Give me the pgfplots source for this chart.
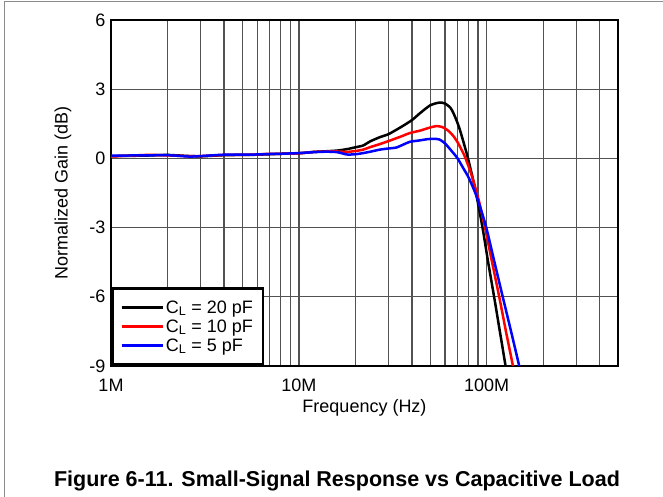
\documentclass[border=0pt]{standalone}
\usepackage{fontspec}
\setmainfont{Liberation Sans}
\usepackage{pgfplots}
\pgfplotsset{compat=1.18}
\begin{document}
\begin{tikzpicture}
\path[use as bounding box] (0pt,0pt) rectangle (663pt,497pt);
\draw[black!45, line width=1pt] (4.5pt,0pt) -- (4.5pt,495.5pt) -- (663pt,495.5pt);
\begin{axis}[
  at={(111pt,131pt)}, anchor=south west,
  scale only axis, width=507pt, height=346pt,
  xmode=log, log basis x=10,
  xmin=1, xmax=500, ymin=-9, ymax=6,
  xtick={1,10,100}, xticklabels={1M,10M,100M},
  minor xtick={2,3,4,5,6,7,8,9,20,30,40,50,60,70,80,90,200,300,400},
  ytick={-9,-6,-3,0,3,6}, yticklabels={-9,-6,-3,0,3,6},
  major tick length=0pt, minor tick length=0pt,
  xmajorgrids, xminorgrids, ymajorgrids,
  grid style={black!68, line width=1.3pt},
  minor grid style={black!68, line width=1.3pt},
  axis line style={line width=2.8pt},
  tick label style={font=\fontsize{18}{20}\selectfont},
  xticklabel style={anchor=base, yshift=-25.5pt},
  yticklabel style={anchor=east, xshift=-2pt},
  label style={font=\fontsize{18}{20}\selectfont},
  xlabel={Frequency (Hz)},
  xlabel style={at={(axis description cs:0.5,-0.135)}, anchor=base},
  ylabel={Normalized Gain (dB)},
  ylabel style={at={(axis description cs:-0.0947,0.5)}, anchor=center},
  legend style={at={(0,0)}, anchor=south west, draw=black, line width=2.5pt,
    fill=white, font=\fontsize{18}{20}\selectfont,
    inner xsep=8pt, inner ysep=10pt, row sep=1pt},
  legend cell align=left,
  legend image code/.code={\draw[#1, line width=2pt] (0pt,0pt) -- (35pt,0pt);
    \path (0pt,0pt) -- (41pt,0pt);},
  every axis plot/.append style={line width=2.5pt, smooth, tension=0.4},
]
% C_L = 20 pF
\addplot[black] coordinates {
(1,0.1) (1.5,0.12) (2,0.15) (2.5,0.11) (3,0.09) (4,0.14) (5,0.15) (6,0.16) (7,0.18) (8,0.2)
(10,0.22) (12,0.28) (14,0.31) (16,0.34) (18,0.4) (20,0.48) (22,0.56) (24,0.74) (27,0.92)
(30,1.05) (35,1.36) (40,1.66) (44,1.95) (50,2.3) (56,2.42) (60,2.38) (64,2.2) (66,2.02)
(69,1.66) (72.3,1.19) (79.1,0.07) (86.9,-1.34) (95,-3.0)
(101.8,-4.5) (109.5,-6.0) (117.5,-7.5) (126,-9.0) (128,-9.4)};
% C_L = 10 pF
\addplot[red] coordinates {
(1,0.08) (1.55,0.15) (2,0.13) (2.5,0.1) (3,0.1) (4,0.15) (5,0.15) (6,0.17) (7,0.2) (8,0.2)
(10,0.22) (12,0.28) (14,0.3) (16,0.3) (18,0.28) (20,0.32) (22,0.38) (24,0.49) (27,0.62)
(30,0.75) (35,0.95) (39,1.1) (44,1.2) (50,1.34) (54,1.4) (58,1.36) (62,1.22) (66,1.0)
(70,0.7) (76.1,0.12) (83,-0.71) (90.6,-1.8) (98,-3.0) (106.8,-4.5)
(116.6,-6.0) (126.6,-7.5) (138,-9.0) (140,-9.25)};
% C_L = 5 pF
\addplot[blue] coordinates {
(1,0.12) (1.5,0.13) (2,0.14) (2.6,0.08) (3,0.1) (4,0.16) (5,0.16) (6,0.17) (7,0.19) (8,0.2)
(10,0.23) (12,0.27) (14,0.29) (16,0.27) (18,0.17) (20,0.18) (22,0.23) (24,0.29) (27,0.38)
(30,0.43) (33,0.47) (36,0.6) (39,0.72) (44,0.78) (48,0.83) (52,0.85) (56,0.82) (60,0.65)
(66,0.26) (70,0.0) (75,-0.42) (80,-0.82) (87,-1.5) (93,-2.2) (99.5,-3.0) (110,-4.5)
(121.7,-6.0) (134.8,-7.5) (149,-9.0) (151,-9.2)};
\legend{C\textsubscript{L} = 20 pF, C\textsubscript{L} = 10 pF, C\textsubscript{L} = 5 pF}
\end{axis}
\node[anchor=base, font=\bfseries\fontsize{21.5}{24}\selectfont] at (337pt,10.3pt)
  {Figure 6-11. Small-Signal Response vs Capacitive Load};
\end{tikzpicture}
\end{document}
